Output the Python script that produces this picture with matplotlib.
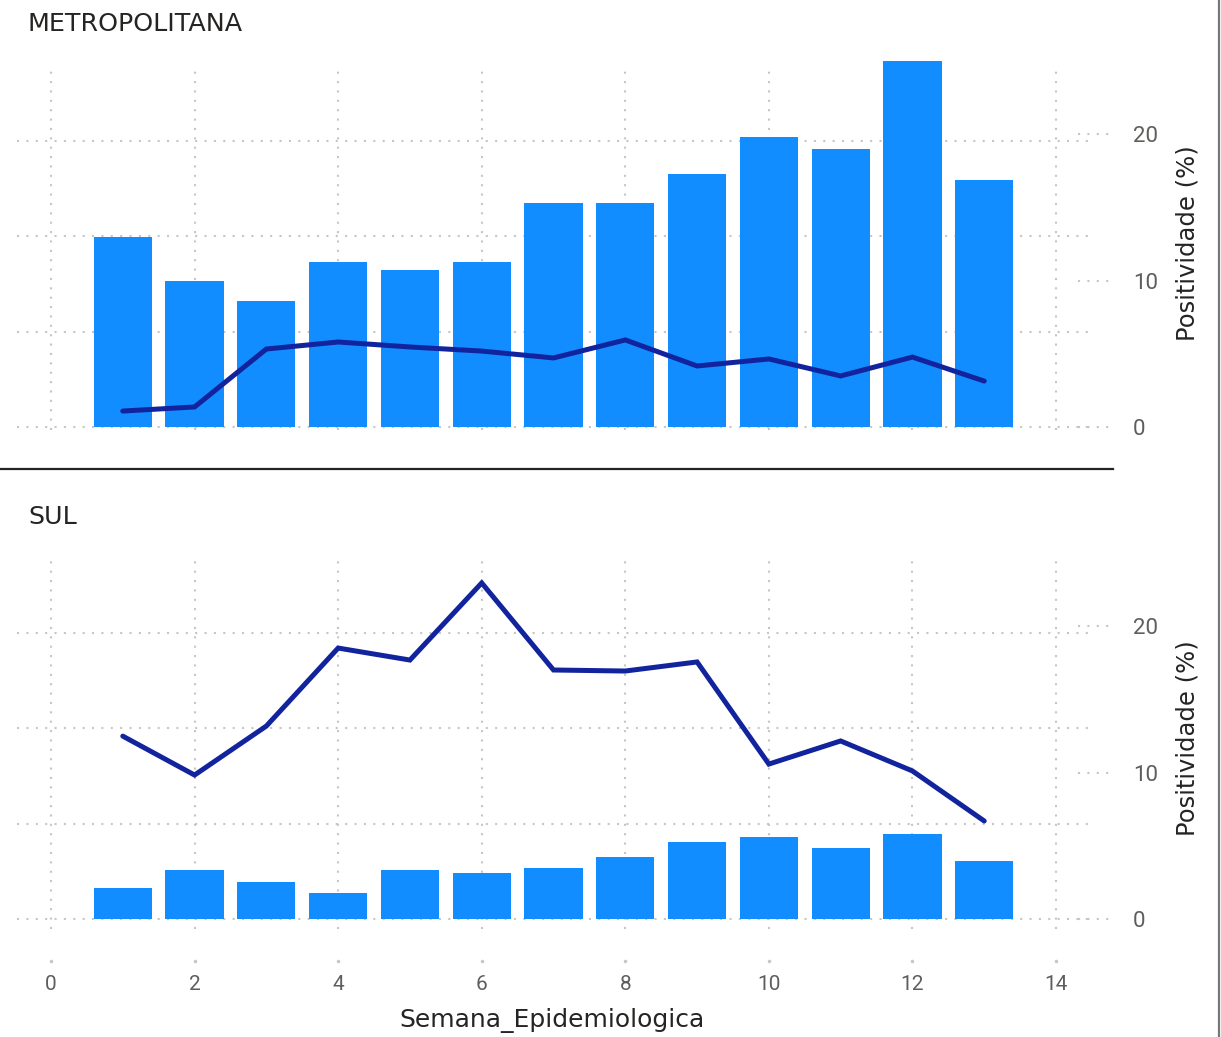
import matplotlib
matplotlib.use("Agg")
import matplotlib.pyplot as plt
import matplotlib.transforms as mtransforms

plt.rcParams['font.family'] = ['Roboto', 'DejaVu Sans']

# ---- data ----
semanas = list(range(1, 14))
regions = ["METROPOLITANA", "SUL"]
bars_metro = [199, 153, 132, 173, 165, 173, 235, 235, 266, 304, 292, 384, 259]
line_metro = [1.09, 1.37, 5.33, 5.81, 5.47, 5.19, 4.72, 5.95, 4.17, 4.65, 3.49, 4.78, 3.14]
bars_sul = [32.5, 51.4, 38.8, 27.3, 51.4, 48.3, 53.5, 65, 80.8, 86, 74.5, 89.2, 60.9]
line_sul = [12.5, 9.84, 13.19, 18.52, 17.7, 22.97, 17.02, 16.95, 17.57, 10.59, 12.17, 10.12, 6.7]
xticks = [0, 2, 4, 6, 8, 10, 12, 14]
left_grid = [0, 100, 200, 300]
right_ticks = [0, 10, 20]
xlabel = "Semana_Epidemiologica"
ylabel_right = "Positividade (%)"

BAR_C = "#118DFF"
LINE_C = "#12239E"
GRID_C = "#C8C6C4"
TICK_C = "#605E5C"
TEXT_C = "#252423"
LABEL_FONT = ['DejaVu Sans']

W, H = 1221, 1037
fig = plt.figure(figsize=(W / 100, H / 100), dpi=100)


def fx(px):
    return px / W


def fy(py):
    return 1 - py / H


panels = [
    # (top px, bottom px, zero px, bars, line, title, title baseline)
    (68, 430, 427, bars_metro, line_metro, regions[0], 31),
    (560, 929, 919, bars_sul, line_sul, regions[1], 524),
]

X0PX, X1PX = 17, 1090
XZERO, X14 = 51, 1056
ppu_x = (X14 - XZERO) / 14.0
xlim = ((X0PX - XZERO) / ppu_x, (X1PX - XZERO) / ppu_x)
units_per_px_left = 100 / 95.3
ppu_right = 14.63

for i, (tpx, bpx, zpx, bars, line, title, tb) in enumerate(panels):
    ax = fig.add_axes([fx(X0PX), fy(bpx), fx(X1PX - X0PX), (bpx - tpx) / H])
    ax.set_xlim(*xlim)
    ax.set_ylim(-(bpx - zpx) * units_per_px_left, (zpx - tpx) * units_per_px_left)
    ax.bar(semanas, bars, width=0.81, color=BAR_C, zorder=2, clip_on=False)
    ax.set_axisbelow(True)
    ax.set_yticks(left_grid)
    ax.set_xticks(xticks)
    ax.grid(True, color=GRID_C, linestyle=(0, (1, 3.5)), linewidth=1.5)
    for s in ax.spines.values():
        s.set_visible(False)
    if i == 1:
        ax.tick_params(axis='x', length=0, pad=33, labelsize=15, labelcolor=TICK_C)
    else:
        ax.tick_params(axis='x', length=0, labelbottom=False)

    ax2 = ax.twinx()
    ax.tick_params(axis='y', left=False, right=False, labelleft=False, labelright=False,
                   length=0)
    ax2.set_ylim(-(bpx - zpx) / ppu_right, (zpx - tpx) / ppu_right)
    ax2.plot(semanas, line, color=LINE_C, linewidth=3.6, solid_capstyle='round',
             solid_joinstyle='miter', zorder=3)
    ax2.set_yticks(right_ticks)
    ax2.tick_params(axis='y', length=0, pad=31, labelsize=16, labelcolor=TICK_C)
    for lab in ax2.get_yticklabels():
        lab.set_horizontalalignment('left')
    for s in ax2.spines.values():
        s.set_visible(False)
    # short right-axis grid marks
    trans = mtransforms.blended_transform_factory(ax2.transAxes, ax2.transData)
    for t in right_ticks:
        ax2.plot([(1078 - X0PX) / (X1PX - X0PX), (1113 - X0PX) / (X1PX - X0PX)], [t, t],
                 transform=trans, color=GRID_C, linestyle=(0, (1, 3.5)), linewidth=1.5,
                 clip_on=False, zorder=1)

    fig.text(fx(28), fy(tb), title, fontsize=18.3, color=TEXT_C, va='baseline', ha='left',
             family=LABEL_FONT)
    fig.text(fx(1188), fy((tpx + bpx) / 2 - 6), ylabel_right, rotation=90, fontsize=17.5,
             color=TEXT_C, ha='center', va='center', family=LABEL_FONT)

# tick dots under bottom panel
for t in xticks:
    fig.lines.append(plt.Line2D([fx(XZERO + t * ppu_x)], [fy(961)], marker='o', markersize=1.5,
                                color=GRID_C, transform=fig.transFigure, linestyle='none'))

# separator and right border
fig.add_artist(plt.Line2D([0, fx(1113)], [fy(469), fy(469)], color=TEXT_C, linewidth=1.6,
                          transform=fig.transFigure))
fig.add_artist(plt.Line2D([fx(1218.5), fx(1218.5)], [0, 1], color="#777777", linewidth=1.6,
                          transform=fig.transFigure))

fig.text(fx(552), fy(1027), xlabel, fontsize=18, color=TEXT_C, ha='center', va='baseline',
         family=LABEL_FONT)

fig.savefig("out.png", dpi=100, facecolor='white')
